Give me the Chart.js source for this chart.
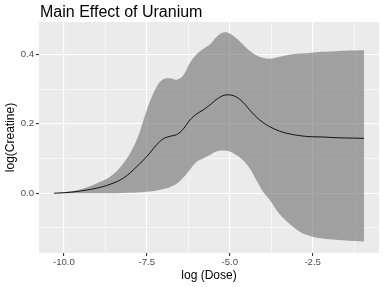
<!DOCTYPE html>
<html>
<head>
<meta charset="utf-8">
<script src="https://cdn.jsdelivr.net/npm/chart.js@4/dist/chart.umd.min.js"></script>
<style>
  html, body { margin: 0; padding: 0; background: #ffffff; }
  #wrap { width: 383px; height: 287px; position: relative; }
</style>
</head>
<body>
<div id="wrap"><canvas id="c" width="383" height="287"></canvas></div>
<script>
const chartTitle = "Main Effect of Uranium";
const xTitle = "log (Dose)";
const yTitle = "log(Creatine)";

const logDose = [-10.3, -9.8, -9.4, -9.0, -8.6, -8.2, -7.8, -7.5, -7.2, -7.0, -6.8, -6.6, -6.4, -6.2, -6.0, -5.8, -5.6, -5.4, -5.2, -5.0, -4.8, -4.6, -4.4, -4.2, -4.0, -3.8, -3.5, -3.2, -2.9, -2.6, -2.2, -1.8, -1.4, -0.95];
const fitValues = [0.000, 0.003, 0.008, 0.015, 0.026, 0.044, 0.077, 0.106, 0.140, 0.157, 0.164, 0.169, 0.185, 0.211, 0.228, 0.240, 0.254, 0.270, 0.281, 0.283, 0.277, 0.262, 0.240, 0.220, 0.204, 0.192, 0.179, 0.171, 0.166, 0.163, 0.162, 0.160, 0.159, 0.158];
const upperValues = [0.000, 0.006, 0.014, 0.029, 0.048, 0.087, 0.155, 0.240, 0.307, 0.328, 0.331, 0.327, 0.340, 0.375, 0.400, 0.415, 0.428, 0.450, 0.463, 0.460, 0.446, 0.428, 0.410, 0.397, 0.390, 0.387, 0.393, 0.399, 0.402, 0.404, 0.407, 0.409, 0.411, 0.412];
const lowerValues = [0.000, 0.000, 0.000, 0.000, 0.000, 0.001, 0.002, 0.004, 0.008, 0.012, 0.018, 0.027, 0.045, 0.068, 0.090, 0.100, 0.110, 0.120, 0.123, 0.120, 0.110, 0.095, 0.072, 0.038, 0.005, -0.019, -0.060, -0.088, -0.110, -0.122, -0.130, -0.134, -0.137, -0.139];

const xTicks = [-10, -8.75, -7.5, -6.25, -5, -3.75, -2.5, -1.25];
const xMajor = [-10, -7.5, -5, -2.5];
const yTicks = [-0.1, 0, 0.1, 0.2, 0.3, 0.4];
const yMajor = [0, 0.2, 0.4];

const pts = (ys) => logDose.map((x, i) => ({ x: x, y: ys[i] }));
const isMajor = (arr, v) => arr.some(m => Math.abs(m - v) < 1e-9);
const FONT = "'Liberation Sans', Arial, Helvetica, sans-serif";

const panelBg = {
  id: 'panelBg',
  beforeDraw(chart) {
    const { ctx, chartArea: a } = chart;
    ctx.save();
    ctx.fillStyle = '#ebebeb';
    ctx.fillRect(a.left, a.top, a.right - a.left, a.bottom - a.top);
    ctx.restore();
  }
};
const titlePlugin = {
  id: 'ggTitle',
  afterDraw(chart) {
    const { ctx, chartArea: a } = chart;
    ctx.save();
    ctx.fillStyle = '#000000';
    ctx.font = '16px ' + FONT;
    ctx.textAlign = 'left';
    ctx.textBaseline = 'alphabetic';
    ctx.fillText(chartTitle, a.left + 1, 16.5);
    ctx.restore();
  }
};

new Chart(document.getElementById('c'), {
  type: 'line',
  data: {
    datasets: [
      { label: 'upper', data: pts(upperValues), borderWidth: 0, pointRadius: 0,
        backgroundColor: 'rgba(110,110,110,0.6)', fill: '+1', tension: 0.4, order: 2 },
      { label: 'lower', data: pts(lowerValues), borderWidth: 0, pointRadius: 0,
        backgroundColor: 'rgba(0,0,0,0)', fill: false, tension: 0.4, order: 3 },
      { label: 'fit', data: pts(fitValues), borderColor: '#000000', borderWidth: 0.9, pointRadius: 0,
        fill: false, tension: 0.4, order: 1 }
    ]
  },
  options: {
    responsive: false,
    animation: false,
    devicePixelRatio: 1,
    layout: { padding: { top: 22, right: 4, left: 0, bottom: 0 } },
    plugins: { legend: { display: false }, title: { display: false }, tooltip: { enabled: false } },
    scales: {
      x: {
        type: 'linear', min: -10.75, max: -0.5,
        afterBuildTicks(s) { s.ticks = xTicks.map(v => ({ value: v })); },
        afterFit(s) { s.height = 34; },
        border: { display: false },
        grid: {
          color: '#ffffff',
          lineWidth: (c) => c.tick && isMajor(xMajor, c.tick.value) ? 1.1 : 0.55,
          tickColor: (c) => c.tick && isMajor(xMajor, c.tick.value) ? '#333333' : 'rgba(0,0,0,0)',
          tickLength: 3, drawTicks: true
        },
        ticks: {
          color: '#4d4d4d', font: { family: FONT, size: 9.6 }, padding: 1, maxRotation: 0, autoSkip: false,
          callback: (v) => isMajor(xMajor, v) ? v.toFixed(1) : ''
        },
        title: { display: true, text: xTitle, color: '#000000', font: { family: FONT, size: 12 },
                 padding: { top: 0, bottom: 4.5 } }
      },
      y: {
        type: 'linear', min: -0.172, max: 0.493,
        afterBuildTicks(s) { s.ticks = yTicks.map(v => ({ value: v })); },
        afterFit(s) { s.width = 39; },
        border: { display: false },
        grid: {
          color: '#ffffff',
          lineWidth: (c) => c.tick && isMajor(yMajor, c.tick.value) ? 1.1 : 0.55,
          tickColor: (c) => c.tick && isMajor(yMajor, c.tick.value) ? '#333333' : 'rgba(0,0,0,0)',
          tickLength: 3, drawTicks: true
        },
        ticks: {
          color: '#4d4d4d', font: { family: FONT, size: 9.6 }, padding: 2, autoSkip: false,
          callback: (v) => isMajor(yMajor, v) ? v.toFixed(1) : ''
        },
        title: { display: true, text: yTitle, color: '#000000', font: { family: FONT, size: 12 },
                 padding: { top: 3, bottom: 0 } }
      }
    }
  },
  plugins: [panelBg, titlePlugin]
});
</script>
</body>
</html>
